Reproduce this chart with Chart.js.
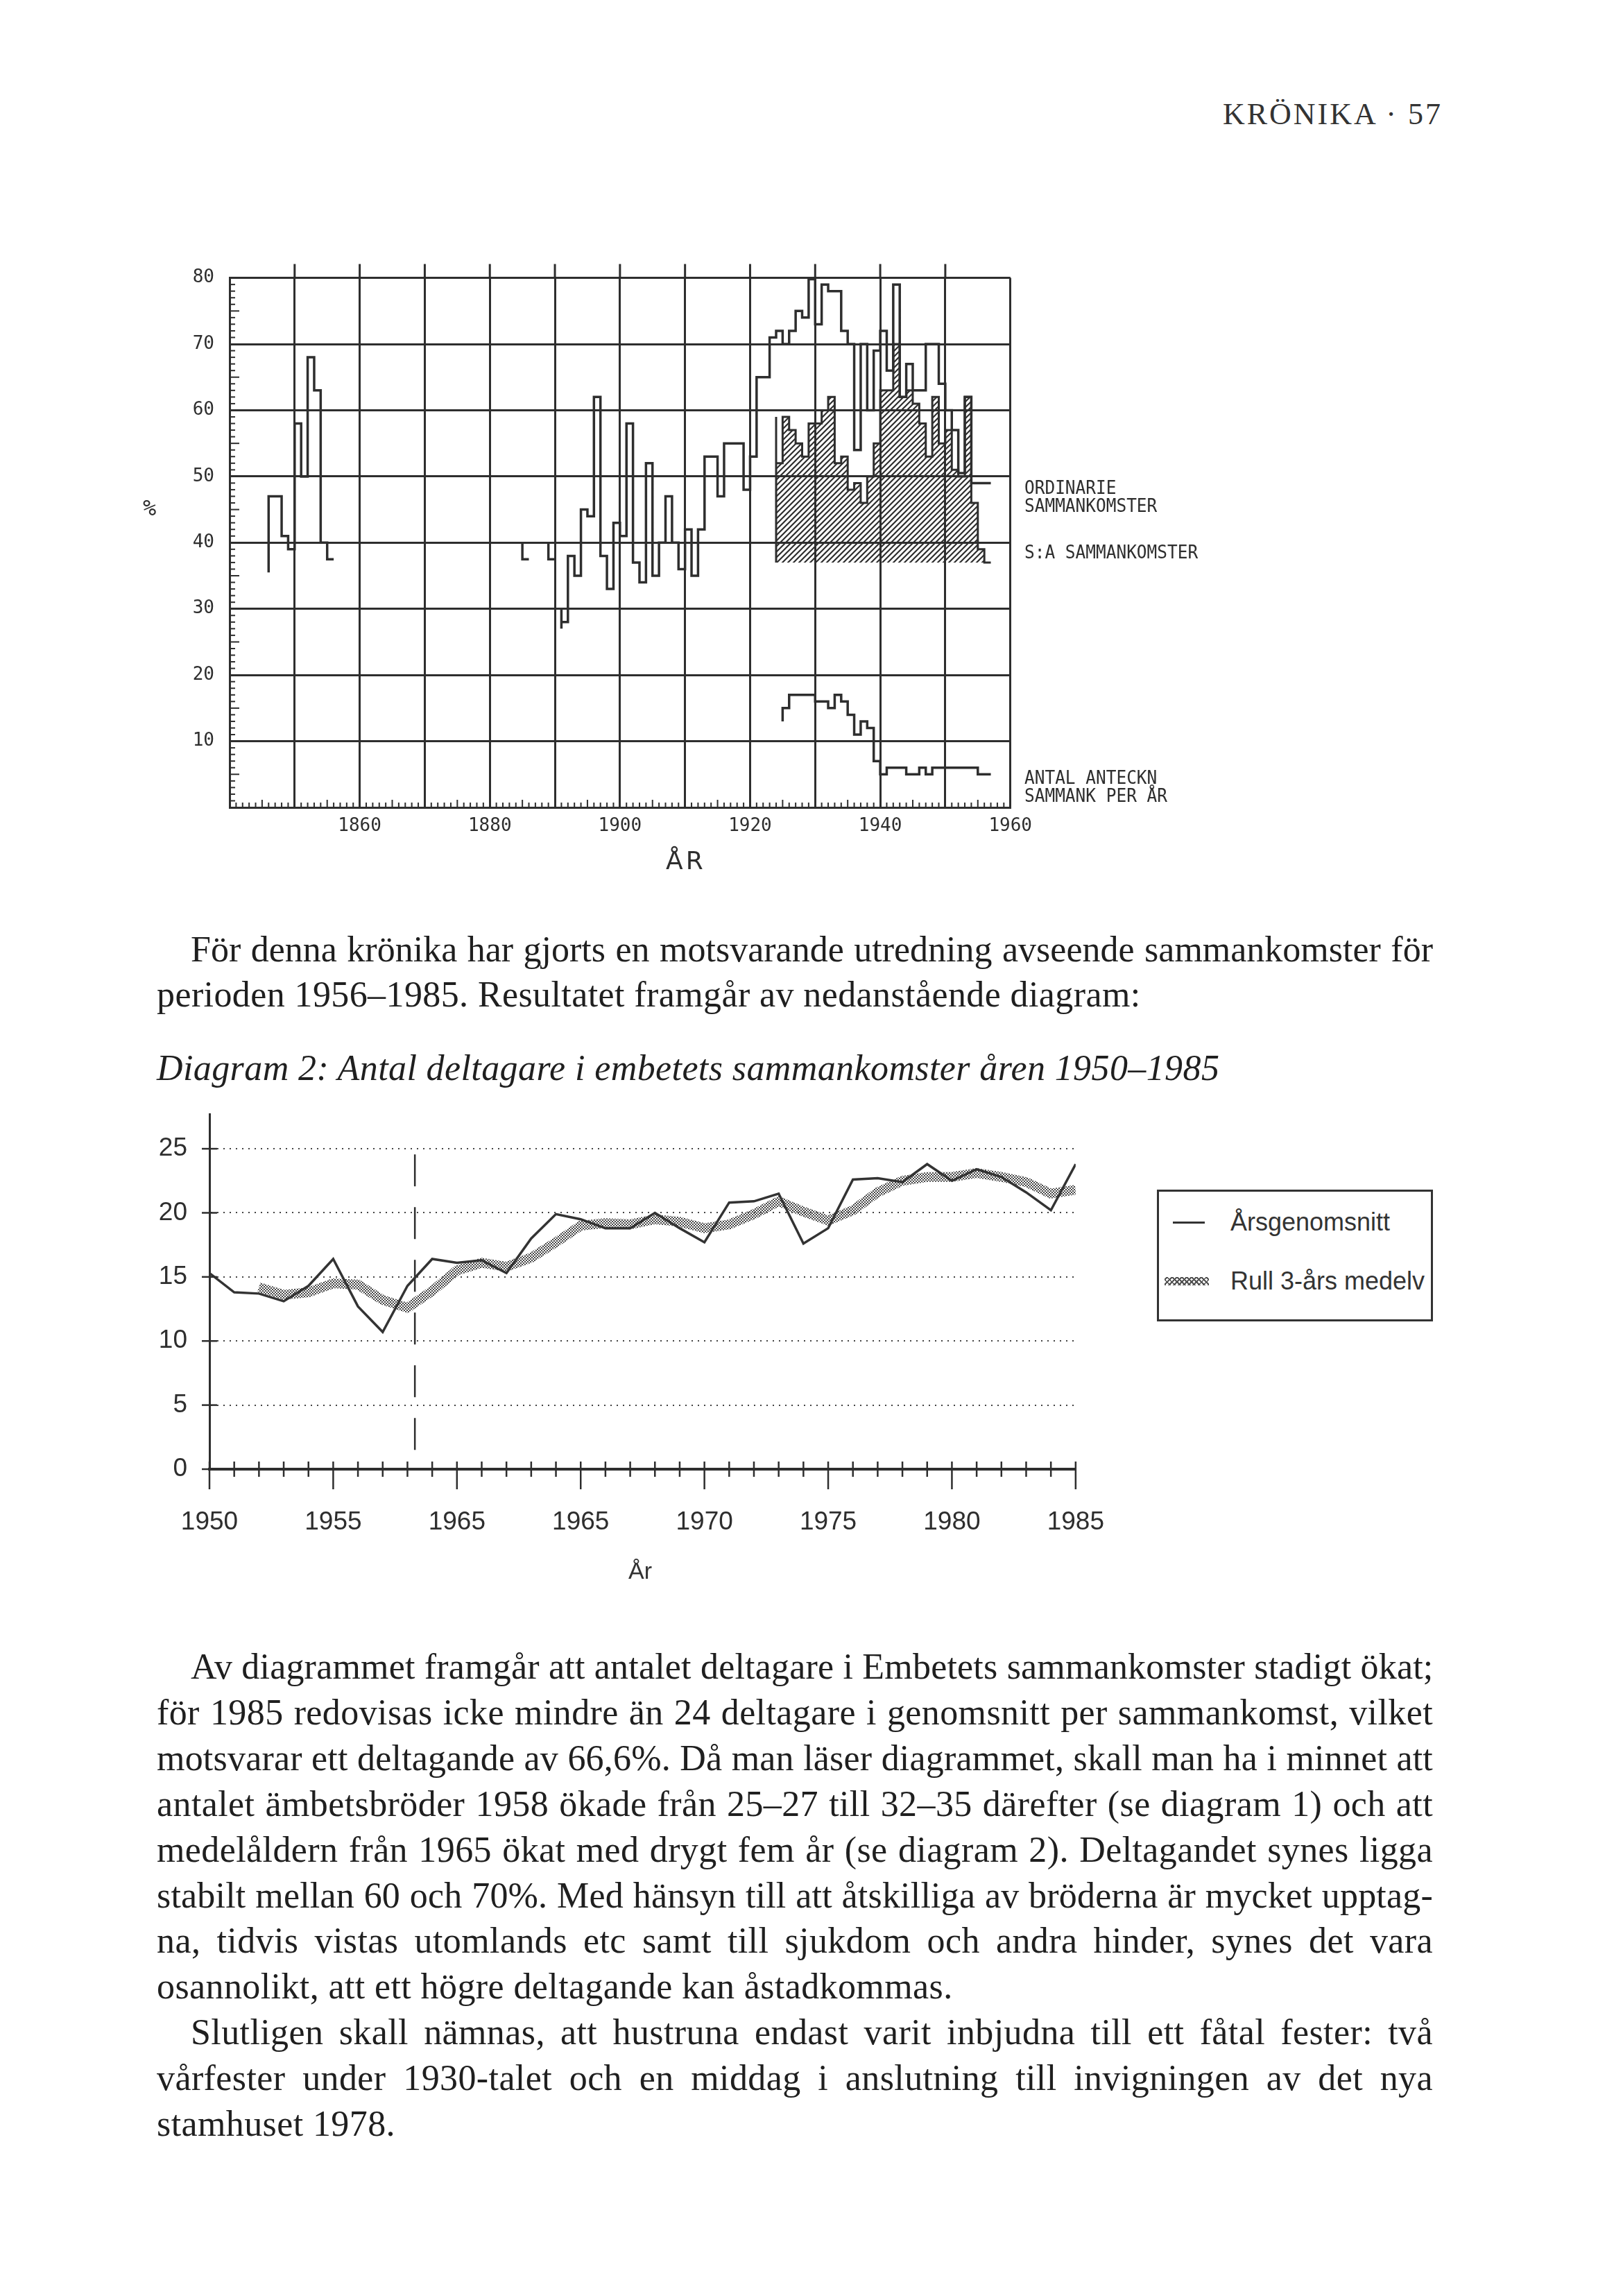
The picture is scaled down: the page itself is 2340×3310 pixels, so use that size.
<!DOCTYPE html>
<html lang="sv">
<head>
<meta charset="utf-8">
<title>Krönika 57</title>
<script src="https://cdn.jsdelivr.net/npm/chart.js@4.4.1/dist/chart.umd.min.js"></script>
<style>
  html, body { margin: 0; padding: 0; background: #fff; }
  body { width: 2340px; height: 3310px; position: relative; overflow: hidden; color: #1f1f1f; }
  canvas { position: absolute; }
  #c1 { left: 200px; top: 363px; }
  #c2 { left: 150px; top: 1552px; }
  .plot { position: absolute; font-family: "DejaVu Sans Mono", monospace; font-size: 26px; line-height: 26px; color: #2e2e2e;
          white-space: nowrap; transform: scaleX(0.94); transform-origin: left center; }
  .serif { font-family: "Liberation Serif", "DejaVu Serif", serif; font-size: 52px; line-height: 66px; letter-spacing: 0.4px; }
  .ln { position: absolute; left: 226px; width: 1840px; white-space: nowrap; text-align: justify; text-align-last: justify; }
  .ln.ind { left: 275px; width: 1791px; }
  .ln.end { text-align: left; text-align-last: left; }
  .sans { position: absolute; font-family: "Liberation Sans", Arial, sans-serif; color: #333; white-space: nowrap; }
  #legend2 { position: absolute; left: 1668px; top: 1715px; width: 398px; height: 190px; border: 3px solid #333; box-sizing: border-box; }
  #legend2 .row { position: absolute; left: 0; height: 40px; width: 100%; }
  #legend2 .txt { position: absolute; left: 103px; top: 0; font-size: 36px; line-height: 40px; }
  #legend2 .solid { position: absolute; left: 20px; top: 19px; width: 46px; height: 3px; background: #333; }
  #legend2 .stip { position: absolute; left: 8px; top: 14px; width: 64px; height: 12px;
    background: repeating-linear-gradient(45deg, #555 0 2px, transparent 2px 5px),
                repeating-linear-gradient(-45deg, #555 0 2px, transparent 2px 5px); }
</style>
</head>
<body>

<div class="serif" style="position:absolute; right:260px; top:135px; font-size:44px; line-height:60px; letter-spacing:3px; color:#333;">KRÖNIKA · 57</div>

<canvas id="c1" width="1300" height="861"></canvas>
<div class="plot" style="left:206px; top:714px; font-size:32px; line-height:36px; transform:none;">%</div>
<div class="plot" style="left:960px; top:1221px; font-family:'DejaVu Sans', sans-serif; font-size:36px; line-height:40px; letter-spacing:4px; transform:none;">ÅR</div>
<div class="plot" style="left:1477px; top:690px;">ORDINARIE<br>SAMMANKOMSTER</div>
<div class="plot" style="left:1477px; top:783px;">S:A SAMMANKOMSTER</div>
<div class="plot" style="left:1477px; top:1108px;">ANTAL ANTECKN<br>SAMMANK PER ÅR</div>

<div class="serif">
  <div class="ln ind" style="top:1336px;">För denna krönika har gjorts en motsvarande utredning avseende sammankomster för</div>
  <div class="ln end" style="top:1401px;">perioden 1956–1985. Resultatet framgår av nedanstående diagram:</div>
  <div class="ln end" style="top:1507px; font-style:italic;">Diagram 2: Antal deltagare i embetets sammankomster åren 1950–1985</div>
</div>

<canvas id="c2" width="1489" height="720"></canvas>
<div class="sans" style="left:906px; top:2244px; font-size:34px; line-height:40px;">År</div>
<div id="legend2">
  <div class="row" style="top:24px;"><div class="solid"></div><div class="txt sans">Årsgenomsnitt</div></div>
  <div class="row" style="top:109px;"><div class="stip"></div><div class="txt sans">Rull 3-års medelv</div></div>
</div>

<div class="serif">
  <div class="ln ind" style="top:2370px;">Av diagrammet framgår att antalet deltagare i Embetets sammankomster stadigt ökat;</div>
  <div class="ln" style="top:2436px;">för 1985 redovisas icke mindre än 24 deltagare i genomsnitt per sammankomst, vilket</div>
  <div class="ln" style="top:2502px;">motsvarar ett deltagande av 66,6%. Då man läser diagrammet, skall man ha i minnet att</div>
  <div class="ln" style="top:2568px;">antalet ämbetsbröder 1958 ökade från 25–27 till 32–35 därefter (se diagram 1) och att</div>
  <div class="ln" style="top:2634px;">medelåldern från 1965 ökat med drygt fem år (se diagram 2). Deltagandet synes ligga</div>
  <div class="ln" style="top:2700px;">stabilt mellan 60 och 70%. Med hänsyn till att åtskilliga av bröderna är mycket upptag-</div>
  <div class="ln" style="top:2765px;">na, tidvis vistas utomlands etc samt till sjukdom och andra hinder, synes det vara</div>
  <div class="ln end" style="top:2831px;">osannolikt, att ett högre deltagande kan åstadkommas.</div>
  <div class="ln ind" style="top:2897px;">Slutligen skall nämnas, att hustruna endast varit inbjudna till ett fåtal fester: två</div>
  <div class="ln" style="top:2963px;">vårfester under 1930-talet och en middag i anslutning till invigningen av det nya</div>
  <div class="ln end" style="top:3029px;">stamhuset 1978.</div>
</div>

<script>
// ---- Diagram 1: participation (%) 1840-1960, step plot ----
// "Ordinarie sammankomster" (nulls break the pen)
const ordYears = [1846, 1846, 1847, 1848, 1849, 1850, 1851, 1852, 1853, 1854, 1855, 1856, 1857,
  1885, 1885, 1886, 1887,
  1889, 1889, 1890, 1890.5,
  1891, 1891, 1892, 1893, 1894, 1895, 1896, 1897, 1898, 1899, 1900,
  1901, 1902, 1903, 1904, 1905, 1906, 1907, 1908, 1909, 1910,
  1911, 1912, 1913, 1914, 1915, 1916, 1917, 1918, 1919, 1920,
  1921, 1922, 1923, 1924, 1925, 1926, 1927, 1928, 1929, 1930,
  1931, 1932, 1933, 1934, 1935, 1936, 1937, 1938, 1939, 1940,
  1941, 1942, 1943, 1944, 1945, 1946, 1947, 1948, 1949, 1950,
  1951, 1952, 1953, 1954, 1955, 1956, 1957];
const ordPct = [35.5, 38, 47, 47, 41, 39, 58, 50, 68, 63, 40, 37.5, null,
  37.5, 40, 37.5, null,
  37.5, 40, 37.5, null,
  27, 30, 28, 38, 35, 45, 44, 62, 38, 33, 43,
  41, 58, 37, 34, 52, 35, 40, 47, 40, 36,
  42, 35, 42, 53, 53, 47, 55, 55, 55, 48,
  53, 65, 65, 71, 72, 70, 72, 75, 74, 79.8,
  73, 79, 78, 78, 72, 70, 54, 70, 60, 69,
  72, 66, 79, 62, 67, 63, 63, 70, 70, 64,
  60, 57, 50.5, 62, 49, 49, 49];

// "S:a sammankomster" (hatched, drawn down to 37 %)
const sumYears = [1924, 1924, 1925, 1926, 1927, 1928, 1929, 1930, 1931, 1932, 1933, 1934, 1935,
  1936, 1937, 1938, 1939, 1940, 1941, 1942, 1943, 1944, 1945, 1946, 1947,
  1948, 1949, 1950, 1951, 1952, 1953, 1954, 1955, 1956, 1957];
const sumPct = [37, 59, 52, 59, 57, 55, 53, 58, 58, 60, 62, 52, 53,
  48, 49, 46, 50, 55, 63, 63, 70, 62, 63, 61, 58,
  53, 62, 55, 57, 51, 50, 62, 46, 39, 37];
const sumBase = 37;

// "Antal anteckn sammank per år"
const antYears = [1925, 1926, 1927, 1928, 1929, 1930, 1931, 1932, 1933, 1934, 1935, 1936, 1937,
  1938, 1939, 1940, 1941, 1942, 1943, 1944, 1945, 1946, 1947, 1948, 1949,
  1950, 1951, 1952, 1953, 1954, 1955, 1956, 1957];
const antCount = [13, 15, 17, 17, 17, 17, 16, 16, 15, 17, 16, 14, 11,
  13, 12, 7, 5, 6, 6, 6, 5, 5, 6, 5, 6,
  6, 6, 6, 6, 6, 6, 5, 5];

const xLabels1 = [1860, 1880, 1900, 1920, 1940, 1960];
const yLabels1 = [10, 20, 30, 40, 50, 60, 70, 80];

// ---- Diagram 2: participants 1950-1985 ----
const years2 = [1950, 1951, 1952, 1953, 1954, 1955, 1956, 1957, 1958, 1959,
  1960, 1961, 1962, 1963, 1964, 1965, 1966, 1967, 1968, 1969,
  1970, 1971, 1972, 1973, 1974, 1975, 1976, 1977, 1978, 1979,
  1980, 1981, 1982, 1983, 1984, 1985];
const yearlyAvg = [15.3, 13.8, 13.7, 13.1, 14.3, 16.4, 12.7, 10.7, 14.3, 16.4,
  16.1, 16.3, 15.3, 18.0, 19.9, 19.5, 18.8, 18.8, 20.0, 18.8,
  17.7, 20.8, 20.9, 21.5, 17.6, 18.8, 22.6, 22.7, 22.4, 23.8,
  22.5, 23.4, 22.8, 21.6, 20.2, 23.8];
const rolling3 = [null, null, 14.2, 13.6, 13.8, 14.5, 14.4, 13.2, 12.6, 13.9,
  15.5, 16.1, 15.8, 16.5, 17.7, 19.0, 19.2, 19.1, 19.5, 19.3,
  18.8, 19.1, 19.9, 20.9, 20.1, 19.4, 20.2, 21.6, 22.5, 22.8,
  22.8, 23.1, 22.8, 22.4, 21.5, 21.8];
const markerYear = 1958.3;
const markerSpan = [1.5, 25.5];
const xLabels2 = ['1950', '1955', '1965', '1965', '1970', '1975', '1980', '1985'];
const yTicks2 = [0, 5, 10, 15, 20, 25];

const ink = '#2e2e2e';
const pts = (xs, ys) => xs.map((x, i) => ({ x: x, y: ys[i] }));

function hatchPattern() {
  const c = document.createElement('canvas');
  c.width = 8; c.height = 8;
  const g = c.getContext('2d');
  g.strokeStyle = ink;
  g.lineWidth = 2.2;
  g.beginPath();
  g.moveTo(0, 8); g.lineTo(8, 0);
  g.moveTo(-2, 2); g.lineTo(2, -2);
  g.moveTo(6, 10); g.lineTo(10, 6);
  g.stroke();
  return g.createPattern(c, 'repeat');
}

function stipplePattern() {
  const c = document.createElement('canvas');
  c.width = 4; c.height = 4;
  const g = c.getContext('2d');
  g.fillStyle = '#474747';
  g.fillRect(0, 0, 2, 2);
  g.fillRect(2, 2, 2, 2);
  return g.createPattern(c, 'repeat');
}

function line(ctx, x1, y1, x2, y2) {
  ctx.beginPath(); ctx.moveTo(x1, y1); ctx.lineTo(x2, y2); ctx.stroke();
}

// small inner ticks and the grid overshoot of the plotter drawing
const plotterTicks = {
  id: 'plotterTicks',
  afterDraw(chart) {
    const { ctx, chartArea: a, scales: { x, y } } = chart;
    ctx.save();
    ctx.strokeStyle = ink;
    ctx.lineWidth = 2;
    for (let v = 1; v < 80; v++) {
      if (v % 10 === 0) continue;
      const py = y.getPixelForValue(v);
      line(ctx, a.left, py, a.left + (v % 5 === 0 ? 14 : 8), py);
    }
    for (let yr = 1841; yr < 1960; yr++) {
      if (yr % 10 === 0) continue;
      const px = x.getPixelForValue(yr);
      line(ctx, px, a.bottom, px, a.bottom - (yr % 5 === 0 ? 11 : 7));
    }
    ctx.lineWidth = 3;
    for (let yr = 1850; yr <= 1950; yr += 10) {
      const px = x.getPixelForValue(yr);
      line(ctx, px, a.top - 20, px, a.top);
    }
    ctx.restore();
  }
};

const crossTicks = {
  id: 'crossTicks',
  afterDraw(chart) {
    const { ctx, scales: { x, y } } = chart;
    ctx.save();
    ctx.strokeStyle = ink;
    ctx.lineWidth = 2.5;
    const y0 = y.getPixelForValue(0);
    for (let i = 0; i < years2.length; i++) {
      const px = x.getPixelForValue(years2[i]);
      line(ctx, px, y0 - 11, px, years2[i] % 5 === 0 ? y0 + 29 : y0 + 11);
    }
    const x0 = x.getPixelForValue(years2[0]);
    yTicks2.forEach(v => {
      const py = y.getPixelForValue(v);
      line(ctx, x0 - 11, py, x0 + 11, py);
    });
    ctx.restore();
  }
};

const mono = { family: '"DejaVu Sans Mono", monospace', size: 26 };

new Chart(document.getElementById('c1'), {
  type: 'line',
  data: {
    datasets: [
      { data: pts(ordYears, ordPct), stepped: 'after', borderColor: ink, borderWidth: 3.5, pointRadius: 0, fill: false },
      { data: pts(antYears, antCount), stepped: 'after', borderColor: ink, borderWidth: 3.5, pointRadius: 0, fill: false },
      { data: pts(sumYears, sumPct), stepped: 'after', borderColor: ink, borderWidth: 3, pointRadius: 0,
        backgroundColor: hatchPattern(), fill: { value: sumBase } }
    ]
  },
  options: {
    responsive: false,
    animation: false,
    devicePixelRatio: 1,
    layout: { padding: { left: 51, top: 36, right: 43, bottom: 0 } },
    plugins: { legend: { display: false }, tooltip: { enabled: false } },
    scales: {
      x: {
        type: 'linear', min: 1840, max: 1960,
        afterFit: s => { s.height = 60; },
        grid: { color: ink, lineWidth: 3, drawTicks: false },
        border: { color: ink, width: 3 },
        ticks: {
          stepSize: 10, padding: 12, color: ink, font: mono, maxRotation: 0,
          callback: v => xLabels1.includes(v) ? String(v) : ''
        }
      },
      y: {
        min: 0, max: 80,
        afterFit: s => { s.width = 80; },
        grid: { color: ink, lineWidth: 3, drawTicks: false },
        border: { color: ink, width: 3 },
        ticks: {
          stepSize: 10, padding: 22, color: ink, font: mono,
          callback: v => yLabels1.includes(v) ? String(v) : ''
        }
      }
    }
  },
  plugins: [plotterTicks]
});

const sansTick = { family: '"Liberation Sans", Arial, sans-serif', size: 37 };

new Chart(document.getElementById('c2'), {
  type: 'line',
  data: {
    datasets: [
      { data: pts(years2, yearlyAvg), borderColor: '#333', borderWidth: 3.5, pointRadius: 0, tension: 0 },
      { data: pts(years2, rolling3), borderColor: stipplePattern(), borderWidth: 14, pointRadius: 0, tension: 0 },
      { data: [{ x: markerYear, y: markerSpan[0] }, { x: markerYear, y: markerSpan[1] }],
        borderColor: ink, borderWidth: 2.5, borderDash: [46, 30], pointRadius: 0 }
    ]
  },
  options: {
    responsive: false,
    animation: false,
    devicePixelRatio: 1,
    layout: { padding: { left: 52, top: 53, right: 0, bottom: 44 } },
    plugins: { legend: { display: false }, tooltip: { enabled: false } },
    scales: {
      x: {
        type: 'linear', min: 1950, max: 1985,
        afterFit: s => { s.height = 110; },
        grid: { display: false },
        border: { color: ink, width: 4 },
        ticks: {
          stepSize: 5, padding: 47, color: ink, font: sansTick, maxRotation: 0,
          callback: v => xLabels2[(v - 1950) / 5]
        }
      },
      y: {
        min: 0, max: 27.7,
        afterFit: s => { s.width = 100; },
        afterBuildTicks: s => { s.ticks = yTicks2.map(v => ({ value: v })); },
        grid: { color: '#444', lineWidth: 2, drawTicks: false },
        border: { color: ink, width: 3, dash: [2, 7] },
        ticks: { padding: 32, color: ink, font: sansTick }
      }
    }
  },
  plugins: [crossTicks]
});

// keep each justified text line on one line
document.querySelectorAll('.ln').forEach(el => {
  let ls = 0.4;
  while (el.scrollWidth > el.clientWidth && ls > -2) {
    ls -= 0.2;
    el.style.letterSpacing = ls + 'px';
  }
});
</script>
</body>
</html>
